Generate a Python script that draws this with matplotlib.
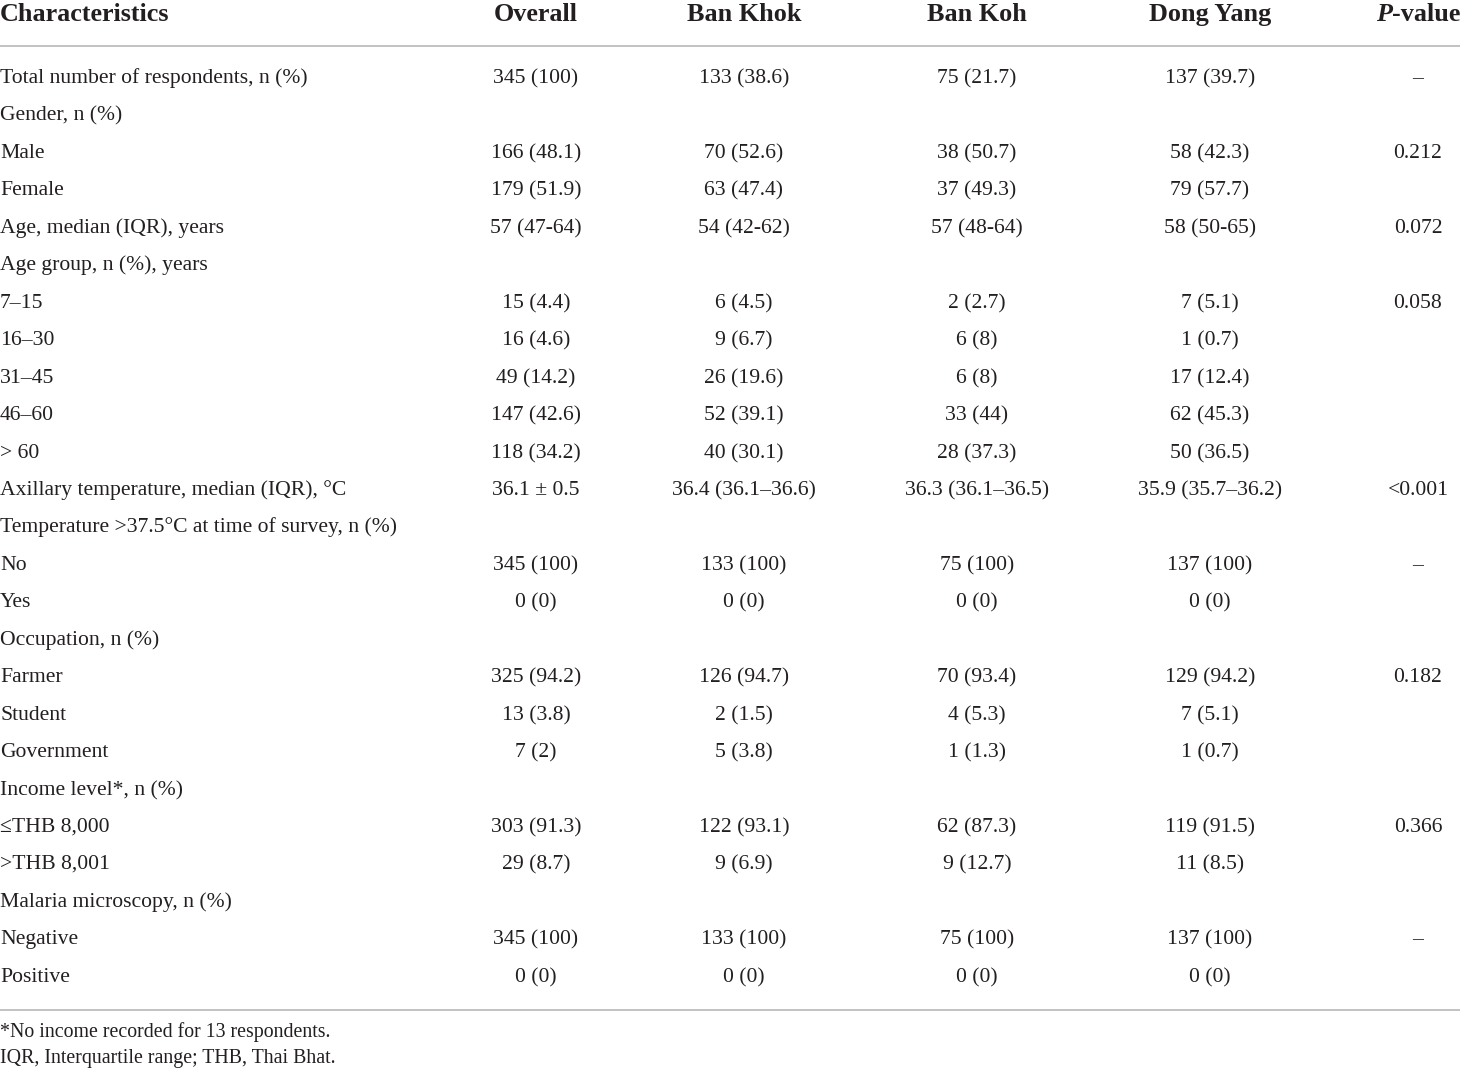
import matplotlib.pyplot as plt

# table content
header = ['Characteristics', 'Overall', 'Ban Khok', 'Ban Koh', 'Dong Yang', 'P-value']

row_labels = [
    'Total number of respondents, n (%)', 'Gender, n (%)', 'Male', 'Female',
    'Age, median (IQR), years', 'Age group, n (%), years',
    '7–15', '16–30', '31–45', '46–60', '> 60',
    'Axillary temperature, median (IQR), °C',
    'Temperature >37.5°C at time of survey, n (%)', 'No', 'Yes',
    'Occupation, n (%)', 'Farmer', 'Student', 'Government',
    'Income level*, n (%)', '≤THB 8,000', '>THB 8,001',
    'Malaria microscopy, n (%)', 'Negative', 'Positive',
]
overall = ['345 (100)', '', '166 (48.1)', '179 (51.9)', '57 (47-64)', '',
           '15 (4.4)', '16 (4.6)', '49 (14.2)', '147 (42.6)', '118 (34.2)',
           '36.1 ± 0.5', '', '345 (100)', '0 (0)', '', '325 (94.2)', '13 (3.8)',
           '7 (2)', '', '303 (91.3)', '29 (8.7)', '', '345 (100)', '0 (0)']
ban_khok = ['133 (38.6)', '', '70 (52.6)', '63 (47.4)', '54 (42-62)', '',
            '6 (4.5)', '9 (6.7)', '26 (19.6)', '52 (39.1)', '40 (30.1)',
            '36.4 (36.1–36.6)', '', '133 (100)', '0 (0)', '', '126 (94.7)', '2 (1.5)',
            '5 (3.8)', '', '122 (93.1)', '9 (6.9)', '', '133 (100)', '0 (0)']
ban_koh = ['75 (21.7)', '', '38 (50.7)', '37 (49.3)', '57 (48-64)', '',
           '2 (2.7)', '6 (8)', '6 (8)', '33 (44)', '28 (37.3)',
           '36.3 (36.1–36.5)', '', '75 (100)', '0 (0)', '', '70 (93.4)', '4 (5.3)',
           '1 (1.3)', '', '62 (87.3)', '9 (12.7)', '', '75 (100)', '0 (0)']
dong_yang = ['137 (39.7)', '', '58 (42.3)', '79 (57.7)', '58 (50-65)', '',
             '7 (5.1)', '1 (0.7)', '17 (12.4)', '62 (45.3)', '50 (36.5)',
             '35.9 (35.7–36.2)', '', '137 (100)', '0 (0)', '', '129 (94.2)', '7 (5.1)',
             '1 (0.7)', '', '119 (91.5)', '11 (8.5)', '', '137 (100)', '0 (0)']
p_value = ['–', '', '0.212', '', '0.072', '', '0.058', '', '', '', '',
           '<0.001', '', '–', '', '', '0.182', '', '', '', '0.366', '', '', '–', '']

footnotes = ['*No income recorded for 13 respondents.',
             'IQR, Interquartile range; THB, Thai Bhat.']

columns = [overall, ban_khok, ban_koh, dong_yang, p_value]
col_x = [536, 744, 977, 1210, 1418]

plt.rcParams['font.family'] = ['Liberation Serif', 'DejaVu Serif']
fs = 15.6
head_fs = 18.8
text_color = '#231f20'
line_color = '#b8b8b8'

fig = plt.figure(figsize=(14.6, 10.69), dpi=100)
ax = fig.add_axes([0, 0, 1, 1])
ax.set_xlim(0, 1460)
ax.set_ylim(1069, 0)
ax.axis('off')

# header (baseline positioned)
head_y = 21
ax.text(0, head_y, header[0], ha='left', va='baseline', fontsize=head_fs,
        fontweight='bold', color=text_color)
for name, x in zip(header[1:-1], col_x[:-1]):
    ax.text(x, head_y, name, ha='center', va='baseline', fontsize=head_fs,
            fontweight='bold', color=text_color)

# P-value header: italic P followed by bold "-value", right edge at the table edge
rest = ax.text(1460, head_y, header[-1][1:], ha='right', va='baseline',
               fontsize=head_fs, fontweight='bold', color=text_color)
renderer = fig.canvas.get_renderer()
bb = rest.get_window_extent(renderer).transformed(ax.transData.inverted())
ax.text(min(bb.x0, bb.x1), head_y, header[-1][0], ha='right', va='baseline',
        fontsize=head_fs, fontweight='bold', fontstyle='italic', color=text_color)

ax.axhline(46, color=line_color, lw=1.2)

# body
row_y0 = 83
row_step = 37.45
for i, label in enumerate(row_labels):
    y = round(row_y0 + i * row_step)
    ax.text(0, y, label, ha='left', va='baseline', fontsize=fs, color=text_color)
    for col, x in zip(columns, col_x):
        ax.text(x, y, col[i], ha='center', va='baseline', fontsize=fs, color=text_color)

ax.axhline(1010, color=line_color, lw=1.2)

for j, note in enumerate(footnotes):
    ax.text(0, 1037 + j * 26, note, ha='left', va='baseline', fontsize=14.3,
            color=text_color)

fig.savefig('out.png', dpi=100)
